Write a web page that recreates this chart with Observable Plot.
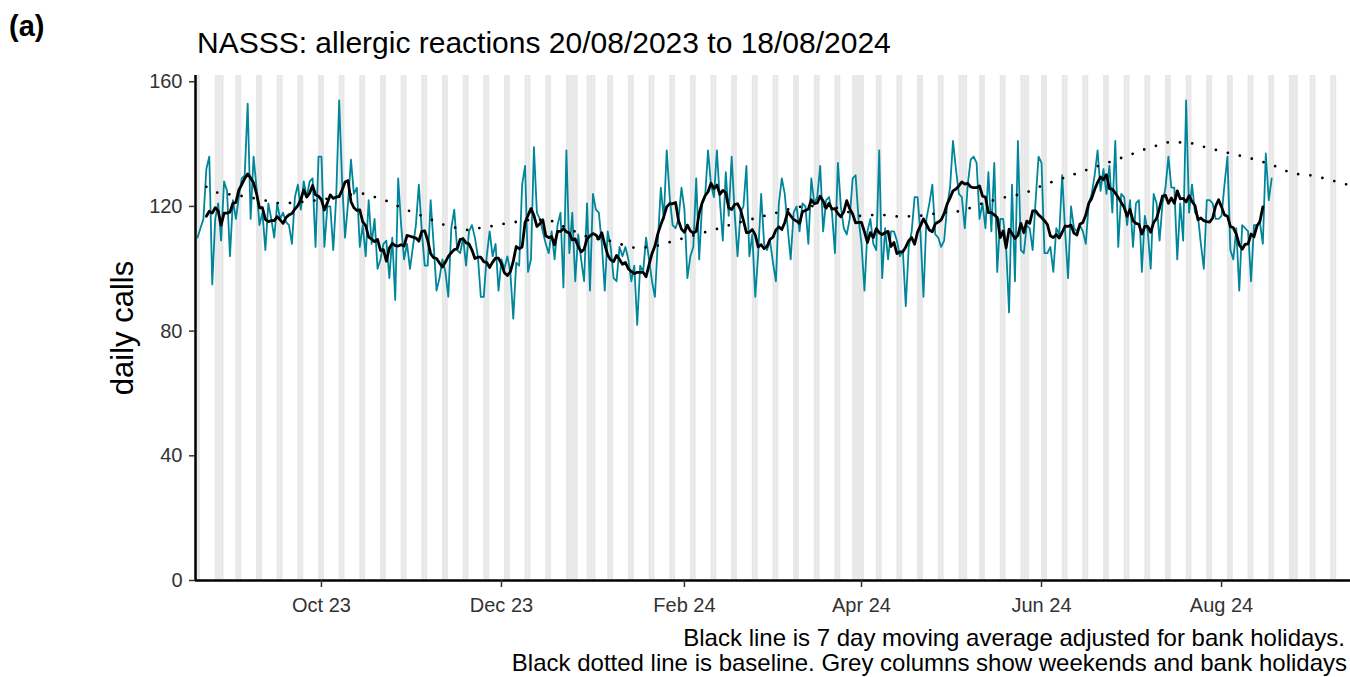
<!DOCTYPE html>
<html><head><meta charset="utf-8">
<script src="https://cdn.jsdelivr.net/npm/d3@7"></script>
<script src="https://cdn.jsdelivr.net/npm/@observablehq/plot@0.6"></script>
<style>
body{margin:0;background:#fff;}
#wrap{position:relative;width:1350px;height:677px;overflow:hidden;background:#fff;}
#wrap svg{position:absolute;left:0;top:0;}
</style></head><body>
<div id="wrap"></div>
<script>
// ---- data ----
const startDate = "2023-08-20";
const dailyCalls = [
110,113,116,132,136,95,116,121,109,128,
125,104,122,116,123,129,130,153,116,136,
126,114,118,106,121,116,110,121,116,118,
115,114,108,123,127,119,128,123,128,129,
107,136,136,107,120,120,106,123,154,128,
110,121,135,124,126,107,114,104,122,108,
116,100,103,108,109,97,110,90,129,114,
103,108,100,107,114,127,112,101,101,122,
108,93,97,103,99,91,113,119,106,105,
110,101,112,114,110,104,91,91,104,112,
104,108,93,103,100,104,99,84,102,101,
127,133,99,103,139,118,116,112,108,105,
112,103,114,118,94,138,105,118,96,111,
103,96,121,93,124,119,118,108,93,112,
107,97,96,107,104,107,103,96,101,82,
101,99,110,103,96,91,109,126,116,138,
123,114,113,116,126,119,97,104,107,129,
103,121,123,138,127,123,138,122,109,131,
117,136,118,104,118,120,133,104,111,91,
105,124,108,106,109,102,96,121,129,124,
113,103,118,120,112,121,120,108,129,121,
123,133,112,122,123,118,105,134,120,113,
111,116,129,130,116,108,93,112,116,108,
106,138,97,113,103,112,112,109,104,106,
88,107,112,123,123,111,91,116,121,127,
111,110,107,109,120,126,141,132,124,123,
113,127,135,136,134,116,121,113,131,112,
134,99,116,116,107,86,127,96,141,106,
105,114,113,106,122,136,134,105,105,107,
99,113,111,130,112,97,120,113,112,114,
112,108,121,124,130,138,125,132,124,133,
118,141,107,124,123,114,122,107,121,122,
99,117,112,100,124,121,109,121,126,136,
126,126,103,121,109,154,118,127,118,117,
108,100,122,122,121,116,116,117,127,136,
106,103,113,93,114,113,112,96,114,114,
115,108,137,122,129
];
const baselineDates = [
"2023-08-23","2023-08-27","2023-09-03","2023-09-10","2023-09-17","2023-09-24",
"2023-10-01","2023-10-08","2023-10-15","2023-10-22","2023-10-29","2023-11-05",
"2023-11-12","2023-11-19","2023-11-26","2023-12-03","2023-12-10","2023-12-17",
"2023-12-24","2023-12-31","2024-01-07","2024-01-14","2024-01-21","2024-01-28",
"2024-02-04","2024-02-11","2024-02-18","2024-02-25","2024-03-03","2024-03-10",
"2024-03-17","2024-03-24","2024-03-31","2024-04-07","2024-04-14","2024-04-21",
"2024-04-28","2024-05-05","2024-05-12","2024-05-19","2024-05-26","2024-06-02",
"2024-06-09","2024-06-16","2024-06-23","2024-06-30","2024-07-07","2024-07-14",
"2024-07-21","2024-07-28","2024-08-04","2024-08-11","2024-08-18","2024-08-25",
"2024-09-01","2024-09-08","2024-09-14"
];
const baselineValues = [
126.3,124.3,123.5,122.3,120.9,121.4,
122.1,123.5,124.1,122.2,119.2,116.6,
113.9,112.4,113.4,114.6,115.6,115.8,
112.7,109.9,108.9,106.8,106.9,108.8,
110.7,112.5,114.5,116.2,117.9,119.8,
120.2,119.5,116.9,117.4,116.7,117.0,
118.0,118.5,121.0,122.8,124.1,127.0,
129.3,131.6,133.9,136.2,138.7,140.6,
140.5,138.6,137.0,135.4,133.4,130.5,
129.9,128.2,126.6
];
const bankHolidays = ["2023-08-28","2023-12-25","2023-12-26","2024-01-01","2024-03-29","2024-04-01","2024-05-06","2024-05-27","2024-08-26"];
const xTickDates = ["2023-10-01","2023-12-01","2024-02-01","2024-04-01","2024-06-01","2024-08-01"];
const yTicks = [0, 40, 80, 120, 160];

// ---- derived tables ----
const parse = d3.utcParse("%Y-%m-%d");
const fmt = d3.utcFormat("%Y-%m-%d");
const start = parse(startDate);
const daily = dailyCalls.map((v, i) => ({date: d3.utcDay.offset(start, i), value: v}));
const ma = [];
for (let i = 3; i < dailyCalls.length - 3; i++) {
  ma.push({date: daily[i].date, value: d3.mean(dailyCalls.slice(i - 3, i + 4))});
}
const baseline = baselineDates.map((d, i) => ({date: parse(d), value: baselineValues[i]}));
const DAY = 864e5;
const x0 = new Date(+start - 0.68 * DAY);
const x1 = new Date(+start + 390.7 * DAY);
const greyDays = d3.utcDays(d3.utcDay.offset(start, -1), d3.utcDay.offset(start, 392))
  .filter(d => d.getUTCDay() === 0 || d.getUTCDay() === 6 || bankHolidays.includes(fmt(d)));
const xTicks = xTickDates.map(parse);
const teal = "#00869b";

const chart = Plot.plot({
  width: 1350, height: 677,
  marginLeft: 195, marginRight: 0, marginTop: 75, marginBottom: 97,
  x: {type: "utc", domain: [x0, x1]},
  y: {domain: [0, 162]},
  style: {fontFamily: "'Liberation Sans', Arial, sans-serif", fontSize: "20px", color: "#333", background: "transparent", overflow: "visible"},
  marks: [
    Plot.rect(greyDays, {x1: d => d, x2: d => d3.utcDay.offset(d, 1), fill: "#e8e8e8", clip: true}),
    Plot.line(daily, {x: "date", y: "value", stroke: teal, strokeWidth: 1.8, clip: true}),
    Plot.line(baseline, {x: "date", y: "value", stroke: "#000", strokeWidth: 2.8, strokeDasharray: "0 12.3", strokeLinecap: "round", clip: true}),
    Plot.line(ma, {x: "date", y: "value", stroke: "#000", strokeWidth: 2.8, clip: true}),
    Plot.ruleY([0], {stroke: "#000", strokeWidth: 2.5}),
    Plot.ruleX([x0], {stroke: "#000", strokeWidth: 2.5}),
    Plot.axisY({ticks: yTicks, tickSize: 6, tickPadding: 7, fontSize: 20, label: null, stroke: "#333", fill: "#333", strokeWidth: 1.5}),
    Plot.axisX({ticks: xTicks, tickFormat: d3.utcFormat("%b %y"), tickSize: 7, tickPadding: 10, fontSize: 20, label: null, stroke: "#333", fill: "#333", strokeWidth: 1.5})
  ]
});
const wrap = document.getElementById("wrap");
wrap.appendChild(chart);

// ---- text overlay ----
const ns = "http://www.w3.org/2000/svg";
const ov = document.createElementNS(ns, "svg");
ov.setAttribute("width", 1350); ov.setAttribute("height", 677);
ov.style.fontFamily = "'Liberation Sans', Arial, sans-serif";
function addText(str, x, y, size, opts = {}) {
  const t = document.createElementNS(ns, "text");
  t.textContent = str;
  t.setAttribute("x", x); t.setAttribute("y", y);
  t.setAttribute("font-size", size);
  t.setAttribute("fill", "#000");
  if (opts.anchor) t.setAttribute("text-anchor", opts.anchor);
  if (opts.bold) t.setAttribute("font-weight", "bold");
  if (opts.transform) t.setAttribute("transform", opts.transform);
  ov.appendChild(t);
}
addText("(a)", 9, 36, 29, {bold: true});
addText("NASSS: allergic reactions 20/08/2023 to 18/08/2024", 197, 53, 30);
addText("daily calls", 0, 0, 31, {anchor: "middle", transform: "translate(133,328) rotate(-90)"});
addText("Black line is 7 day moving average adjusted for bank holidays.", 1345, 646, 24, {anchor: "end"});
addText("Black dotted line is baseline. Grey columns show weekends and bank holidays", 1347, 671, 24, {anchor: "end"});
wrap.appendChild(ov);
</script>
</body></html>
